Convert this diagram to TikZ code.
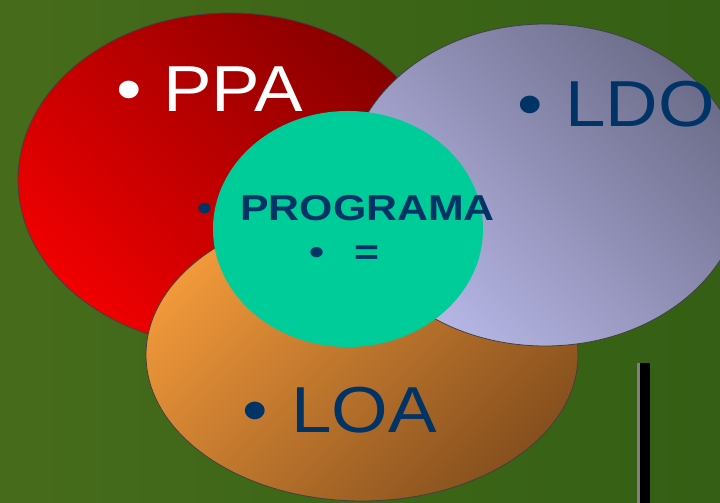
\documentclass[tikz,border=0pt]{standalone}
\usepackage{fontspec}
\setmainfont{Liberation Sans}

\definecolor{fieldleft}{RGB}{70,108,27}
\definecolor{fieldright}{RGB}{52,95,20}
\definecolor{ppadark}{RGB}{135,0,0}
\definecolor{ppalight}{RGB}{240,0,0}
\definecolor{ldodark}{RGB}{108,108,138}
\definecolor{ldolight}{RGB}{184,184,232}
\definecolor{loalight}{RGB}{240,152,58}
\definecolor{loadark}{RGB}{135,80,30}
\definecolor{progfill}{RGB}{0,204,153}
\definecolor{textblue}{RGB}{0,51,102}

\begin{document}
\begin{tikzpicture}[x=1pt, y=1pt,
	  rim/.style={draw=black!75, line width=0.8pt},
	  bigtext/.style={font=\fontsize{65}{65}\selectfont, inner sep=0pt, xscale=1.12},
	  smalltext/.style={font=\fontsize{36}{36}\selectfont\bfseries, inner sep=0pt, xscale=1.19, text=textblue}]
	  \useasboundingbox (0,0) rectangle (720,503);
	  \fill [left color=fieldleft, right color=fieldright] (0,0) rectangle (720,503);

	  % the four sets
	  \draw [rim, top color=ppadark, bottom color=ppalight, shading angle=-45] (230,323) ellipse [x radius=212, y radius=167];
	  \draw [rim, top color=loalight, bottom color=loadark, shading angle=45] (362,148) ellipse [x radius=216, y radius=146];
	  \draw [rim, top color=ldodark, bottom color=ldolight, shading angle=-45] (545,318) ellipse [x radius=198, y radius=161];
	  \fill [progfill] (348,274) ellipse [x radius=135, y radius=118];

	  \node [bigtext, text=white, anchor=base] (ppadot) at (129,391) {•};
	  \node [bigtext, text=white, anchor=base west] (ppa) at (163,391) {PPA};

	  \node [bigtext, text=textblue, anchor=base] (ldodot) at (530,376) {•};
	  \node [bigtext, text=textblue, anchor=base west] (ldo) at (565,376) {LDO};

	  \node [bigtext, text=textblue, anchor=base] (loadot) at (255,70) {•};
	  \node [bigtext, text=textblue, anchor=base west] (loa) at (291,70) {LOA};

	  \node [smalltext, anchor=base] (progdot) at (205,282) {•};
	  \node [smalltext, anchor=base west] (prog) at (240,282) {PROGRAMA};
	  \node [smalltext, anchor=base] (eqdot) at (317,238) {•};
	  \node [smalltext, anchor=base west] (eq) at (354,238) {=};

	  % bar at the lower right
	  \fill [black!50] (637,0) rectangle (640,140);
	  \fill [black] (640,0) rectangle (650,140);

	\end{tikzpicture}
\end{document}
